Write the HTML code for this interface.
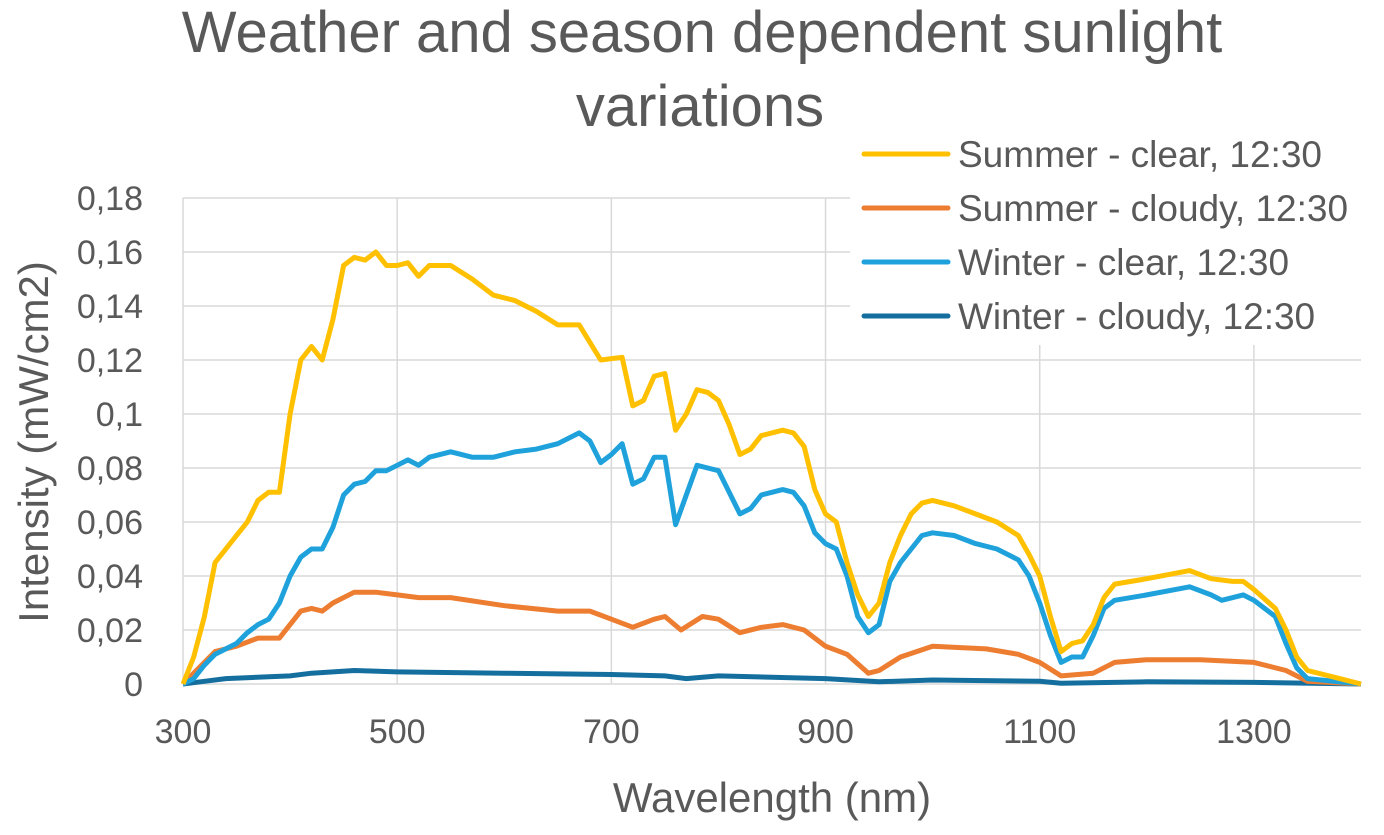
<!DOCTYPE html>
<html><head><meta charset="utf-8"><style>
body{margin:0;background:#fff;}
svg{display:block;font-family:"Liberation Sans",sans-serif;}
</style></head><body>
<svg id="chart" width="1384" height="835">
<text x="702" y="52" font-size="58" fill="#595959" text-anchor="middle">Weather and season dependent  sunlight</text>
<text x="700" y="126" font-size="58" fill="#595959" text-anchor="middle">variations</text>
<g id="grid"></g><g id="series"></g>
<rect x="850" y="135" width="534" height="210" fill="#fff"/>
<g id="legend"></g><g id="axes"></g>
<text x="772" y="812" font-size="42" fill="#595959" text-anchor="middle">Wavelength (nm)</text>
<text transform="translate(48,442) rotate(-90)" font-size="42" fill="#595959" text-anchor="middle">Intensity (mW/cm2)</text>
</svg>
<script>
const xTicks=[300,500,700,900,1100,1300];
const yTicks=[0,0.02,0.04,0.06,0.08,0.1,0.12,0.14,0.16,0.18];
const yLabels=["0","0,02","0,04","0,06","0,08","0,1","0,12","0,14","0,16","0,18"];
const seriesNames=["Summer - clear, 12:30","Summer - cloudy, 12:30","Winter - clear,  12:30","Winter - cloudy, 12:30"];
const summerClearX=[300,310,320,330,340,350,360,370,380,390,400,410,420,430,440,450,460,470,480,490,500,510,520,530,550,570,590,610,630,650,670,690,710,720,730,740,750,760,770,780,790,800,810,820,830,840,860,870,880,890,900,910,920,930,940,950,960,970,980,990,1000,1020,1040,1060,1080,1090,1100,1110,1120,1130,1140,1150,1160,1170,1200,1240,1260,1280,1290,1300,1320,1330,1340,1350,1380,1400];
const summerClearY=[0,0.01,0.025,0.045,0.05,0.055,0.06,0.068,0.071,0.071,0.1,0.12,0.125,0.12,0.135,0.155,0.158,0.157,0.16,0.155,0.155,0.156,0.151,0.155,0.155,0.15,0.144,0.142,0.138,0.133,0.133,0.12,0.121,0.103,0.105,0.114,0.115,0.094,0.1,0.109,0.108,0.105,0.096,0.085,0.087,0.092,0.094,0.093,0.088,0.072,0.063,0.06,0.045,0.033,0.025,0.03,0.045,0.055,0.063,0.067,0.068,0.066,0.063,0.06,0.055,0.048,0.04,0.025,0.012,0.015,0.016,0.022,0.032,0.037,0.039,0.042,0.039,0.038,0.038,0.035,0.028,0.02,0.01,0.005,0.002,0];
const summerCloudyX=[300,320,330,350,370,390,400,410,420,430,440,460,480,500,520,550,600,650,680,700,720,740,750,765,785,800,820,840,860,880,900,920,940,950,970,1000,1050,1080,1100,1120,1150,1170,1200,1250,1300,1330,1350,1400];
const summerCloudyY=[0,0.008,0.012,0.014,0.017,0.017,0.022,0.027,0.028,0.027,0.03,0.034,0.034,0.033,0.032,0.032,0.029,0.027,0.027,0.024,0.021,0.024,0.025,0.02,0.025,0.024,0.019,0.021,0.022,0.02,0.014,0.011,0.004,0.005,0.01,0.014,0.013,0.011,0.008,0.003,0.004,0.008,0.009,0.009,0.008,0.005,0.001,0];
const winterClearX=[300,310,320,330,340,350,360,370,380,390,400,410,420,430,440,450,460,470,480,490,500,510,520,530,550,570,590,610,630,650,670,680,690,700,710,720,730,740,750,760,770,780,790,800,810,820,830,840,860,870,880,890,900,910,920,930,940,950,960,970,980,990,1000,1020,1040,1060,1080,1090,1100,1110,1120,1130,1140,1150,1160,1170,1200,1240,1260,1270,1290,1300,1320,1330,1340,1350,1400];
const winterClearY=[0,0.002,0.007,0.011,0.013,0.015,0.019,0.022,0.024,0.03,0.04,0.047,0.05,0.05,0.058,0.07,0.074,0.075,0.079,0.079,0.081,0.083,0.081,0.084,0.086,0.084,0.084,0.086,0.087,0.089,0.093,0.09,0.082,0.085,0.089,0.074,0.076,0.084,0.084,0.059,0.07,0.081,0.08,0.079,0.071,0.063,0.065,0.07,0.072,0.071,0.066,0.056,0.052,0.05,0.04,0.025,0.019,0.022,0.038,0.045,0.05,0.055,0.056,0.055,0.052,0.05,0.046,0.04,0.03,0.018,0.008,0.01,0.01,0.018,0.028,0.031,0.033,0.036,0.033,0.031,0.033,0.031,0.025,0.015,0.006,0.002,0];
const winterCloudyX=[300,320,340,400,420,460,500,600,700,750,770,800,900,950,1000,1100,1120,1200,1300,1400];
const winterCloudyY=[0,0.001,0.002,0.003,0.004,0.005,0.0045,0.004,0.0035,0.003,0.002,0.003,0.002,0.0008,0.0015,0.001,0.0003,0.0008,0.0006,0];
const colors=["#FFC000","#ED7D31","#1FA2DB","#156F9E"];
const NS="http://www.w3.org/2000/svg";
const X=v=>183+(v-300)*(1178/1100);
const Y=v=>684-v*(486/0.18);
function mk(tag,attrs,parent,txt){const e=document.createElementNS(NS,tag);for(const k in attrs)e.setAttribute(k,attrs[k]);if(txt!==undefined)e.textContent=txt;parent.appendChild(e);return e;}
const grid=document.getElementById('grid'),axes=document.getElementById('axes'),ser=document.getElementById('series'),leg=document.getElementById('legend');
yTicks.forEach((t,i)=>{
 const l=mk('line',{x1:183,x2:1361,y1:Y(t),y2:Y(t),stroke:'#d9d9d9','stroke-width':1.5},grid);
 
 
 const tx=mk('text',{x:143,y:Y(t)+12,'font-size':34,fill:'#595959','text-anchor':'end','textLength':null},axes,yLabels[i]);
 tx.removeAttribute('textLength');
 
 
});
xTicks.forEach(t=>{
 const l=mk('line',{x1:X(t),x2:X(t),y1:Y(0.18),y2:684,stroke:'#d9d9d9','stroke-width':1.5},grid);
 
 
 const tx=mk('text',{x:X(t),y:743,'font-size':34,fill:'#595959','text-anchor':'middle'},axes,String(t));
 
 
});
const data=[[summerClearX,summerClearY],[summerCloudyX,summerCloudyY],[winterClearX,winterClearY],[winterCloudyX,winterCloudyY]];
const names=['summer-clear-line','summer-cloudy-line','winter-clear-line','winter-cloudy-line'];
[3,1,2,0].forEach(i=>{
 const [xs,ys]=data[i];
 const d=xs.map((x,j)=>(j?'L':'M')+X(x).toFixed(1)+','+Y(ys[j]).toFixed(1)).join('');
 const p=mk('path',{d:d,fill:'none',stroke:colors[i],'stroke-width':5,'stroke-linejoin':'round'},ser);
 
 
});
seriesNames.forEach((n,i)=>{
 const y=154+i*54;
 const g=mk('g',{},leg);
 
 
 mk('line',{x1:864,x2:948,y1:y,y2:y,stroke:colors[i],'stroke-width':5,'stroke-linecap':'round'},g);
 mk('text',{x:958,y:y+13,'font-size':37,fill:'#595959'},g,n);
});
</script>
</body></html>
